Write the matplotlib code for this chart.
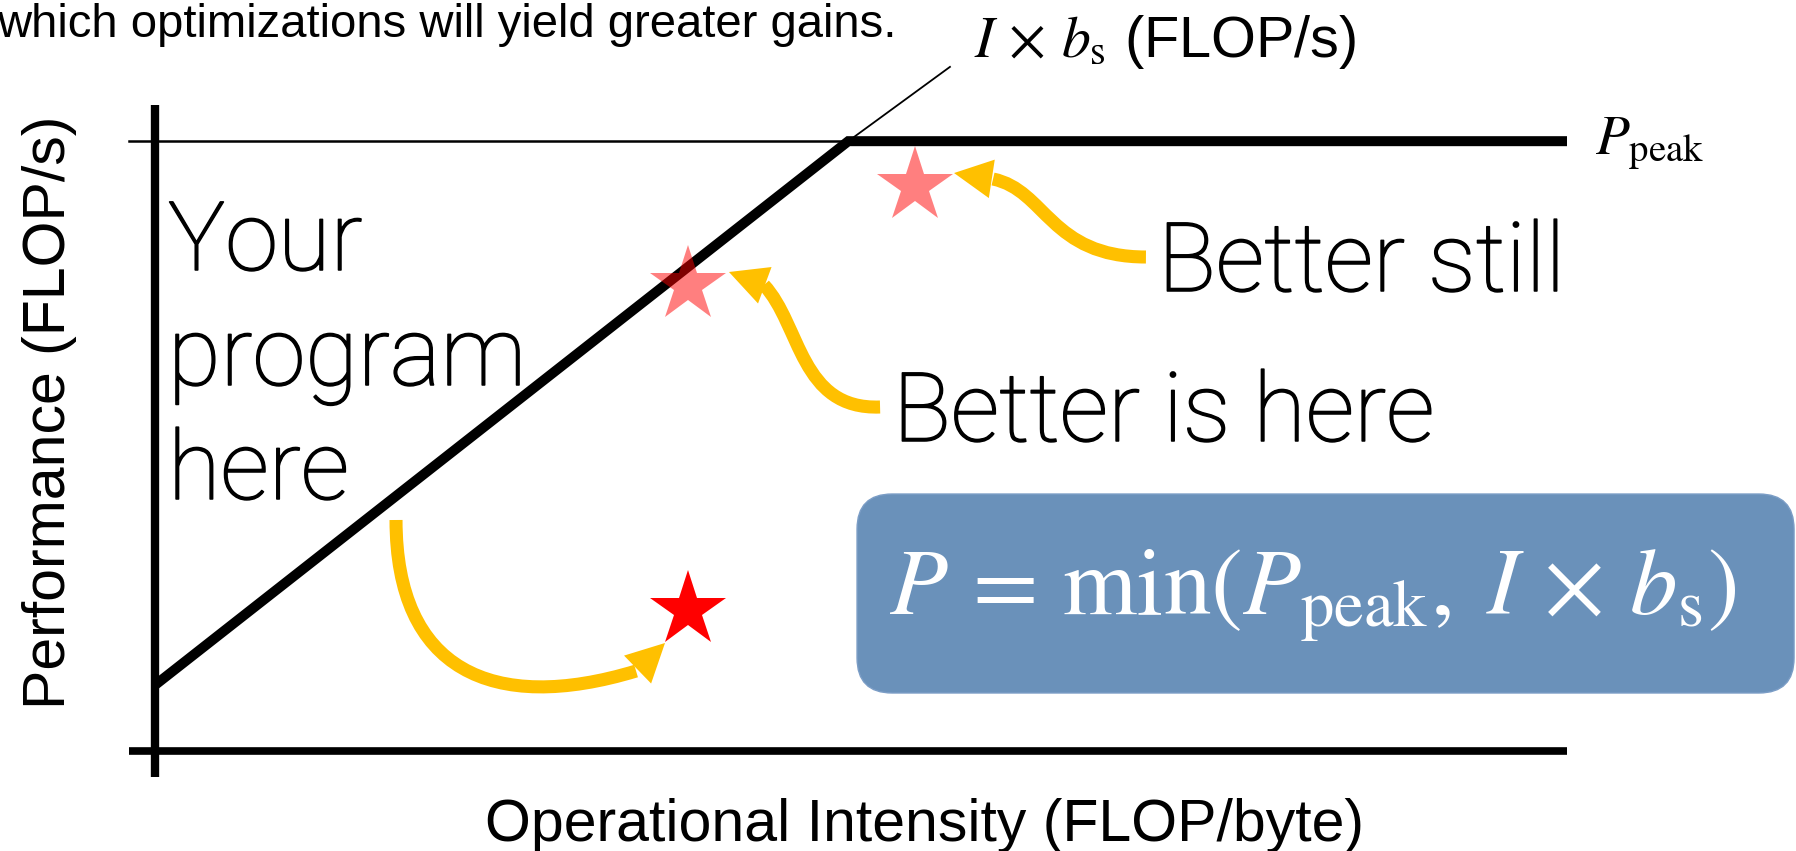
import matplotlib
matplotlib.use('Agg')
import matplotlib.pyplot as plt
import matplotlib.patheffects as pe
from matplotlib.patches import FancyArrowPatch, FancyBboxPatch, PathPatch, ArrowStyle
from matplotlib.path import Path

plt.rcParams['font.family'] = ['Liberation Sans', 'DejaVu Sans']
plt.rcParams['mathtext.fontset'] = 'stix'

# roofline (arbitrary units: intensity 0-100, performance 0-100)
roof_x = [0, 49.1, 100]
roof_y = [10.2, 94.4, 94.4]
peak_guide_x = [-1.84, 49.1]
peak_guide_y = [94.4, 94.4]
slope_guide_x = [49.1, 56.3]
slope_guide_y = [94.4, 105.9]

# program positions: current, better, better still
star_x = [37.75, 37.75, 53.8]
star_y = [21.9, 72.1, 87.4]
star_alpha = [1.0, 0.5, 0.5]

# curved arrows: cubic control points + head tip
arrow_ctrl = [
    [(17.07, 35.76), (17.07, 12.54), (23.90, 5.65), (34.07, 12.38)],
    [(51.35, 53.25), (45.68, 52.79), (45.75, 65.94), (43.13, 72.14)],
    [(70.18, 76.47), (63.39, 76.47), (63.10, 86.84), (59.35, 88.54)],
]
arrow_tip = [(36.12, 16.72), (40.65, 74.15), (56.59, 89.47)]

GOLD = '#FFC000'
W, H = 1796, 851


def fx(px):
    return px / W


def fy(py):
    return 1 - py / H


fig = plt.figure(figsize=(W / 100, H / 100), dpi=100)
ax = fig.add_axes([155 / W, 100 / H, 1412 / W, 646 / H])
ax.set_xlim(0, 100)
ax.set_ylim(0, 100)
ax.axis('off')

# axes drawn by hand so they cross at the corner
ax.plot([0, 0], [-4.0, 100], color='k', lw=6, solid_capstyle='butt', clip_on=False)
ax.plot([-1.84, 100], [0, 0], color='k', lw=5.5, solid_capstyle='butt', clip_on=False)

ax.plot(peak_guide_x, peak_guide_y, color='k', lw=1.8, clip_on=False)
ax.plot(slope_guide_x, slope_guide_y, color='k', lw=1.3, clip_on=False)
ax.plot(roof_x, roof_y, color='k', lw=7.2, solid_joinstyle='miter',
        solid_capstyle='butt', clip_on=False, zorder=3)

for x, y, a in zip(star_x, star_y, star_alpha):
    ax.plot(x, y, marker='*', ms=57, mew=0, color='red', alpha=a,
            ls='none', zorder=5, clip_on=False)

for ctrl, tip in zip(arrow_ctrl, arrow_tip):
    path = Path(ctrl, [Path.MOVETO, Path.CURVE4, Path.CURVE4, Path.CURVE4])
    ax.add_patch(PathPatch(path, fill=False, edgecolor=GOLD, lw=9.4,
                           capstyle='butt', clip_on=False, zorder=4))
    bx, by = ctrl[-1]
    start = (2 * bx - tip[0], 2 * by - tip[1])
    ax.add_patch(FancyArrowPatch(start, tip,
                                 arrowstyle=ArrowStyle('-|>', head_length=27.5, head_width=14),
                                 mutation_scale=1, color=GOLD, lw=0,
                                 shrinkA=0, shrinkB=0, clip_on=False, zorder=4))

# formula box
ax.add_patch(FancyBboxPatch((49.72, 8.98), 66.36, 30.8,
                            boxstyle='round,pad=0,rounding_size=2.48',
                            mutation_aspect=2.186, fc='#6a91ba', ec='#7b9dc6',
                            lw=1, clip_on=False, zorder=2))
ax.text(82.0, 21.2,
        r'$P\,=\,\min(P_{\mathrm{peak}},\;I\,\times\,b_{\mathrm{s}})$',
        ha='center', va='baseline', color='white', fontsize=68.5, zorder=6)

# labels
fig.text(fx(-3), fy(37), 'which optimizations will yield greater gains.',
         fontsize=34, va='baseline', ha='left')
fig.text(fx(974), fy(57), r'$I\,\times\,b_{\mathrm{s}}$ (FLOP/s)', fontsize=41.5,
         va='baseline', ha='left')
fig.text(fx(1595), fy(155), r'$P_{\mathrm{peak}}$', fontsize=40,
         va='baseline', ha='left')
fig.text(fx(50), fy(412), 'Performance (FLOP/s)', rotation=90, fontsize=42.5,
         ha='center', va='center')
fig.text(fx(925), fy(841), 'Operational Intensity (FLOP/byte)', fontsize=42.5,
         ha='center', va='baseline')

big = dict(family=['Roboto', 'DejaVu Sans'], weight='light', fontsize=69,
           va='baseline', ha='left',
           path_effects=[pe.withStroke(linewidth=1.1, foreground='black')])
for line, base in zip(['Your', 'program', 'here'], [270, 385, 499]):
    fig.text(fx(168), fy(base), line, **big)
fig.text(fx(893), fy(441), 'Better is here', **big)
fig.text(fx(1158), fy(291), 'Better still', **big)

fig.savefig('out.png', dpi=100)
